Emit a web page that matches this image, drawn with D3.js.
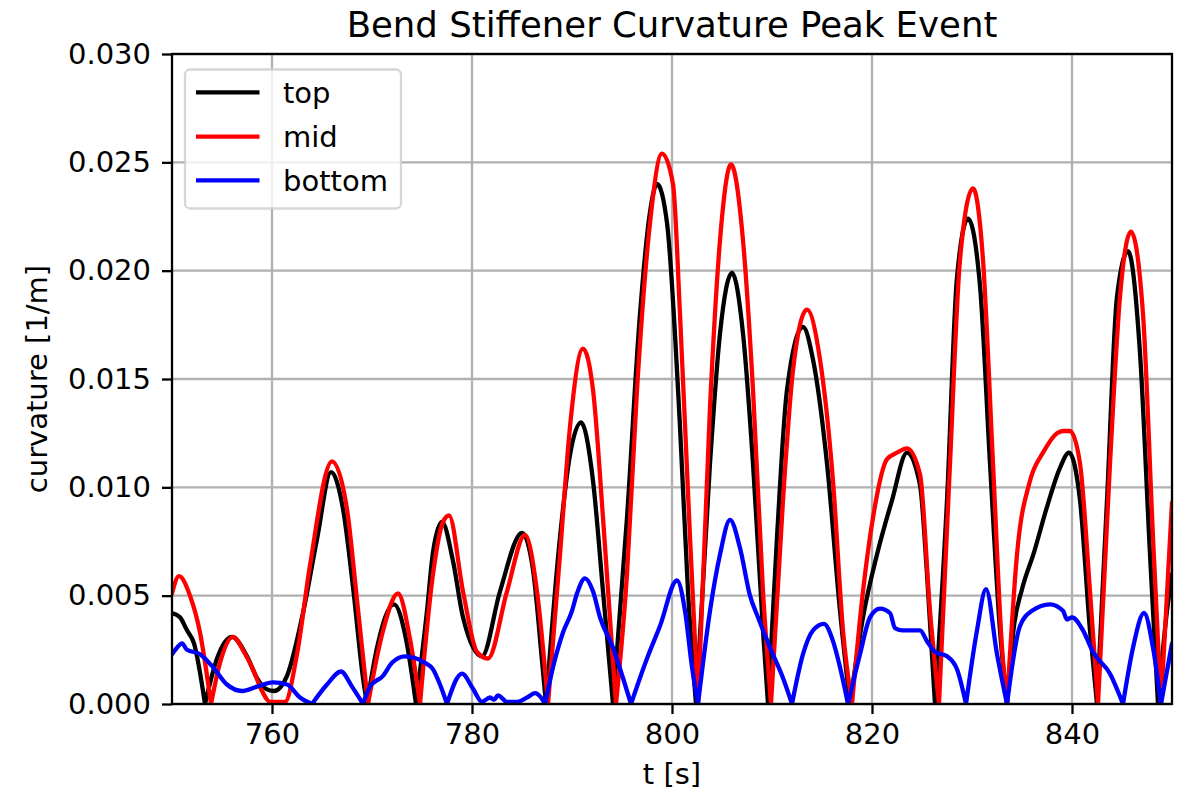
<!DOCTYPE html>
<html>
<head>
<meta charset="utf-8">
<script src="https://cdn.jsdelivr.net/npm/d3@7"></script>
<style>
  body { margin: 0; background: #fff; }
  svg { display: block; font-family: "DejaVu Sans", sans-serif; }
</style>
</head>
<body>
<div id="chart"></div>
<script>
// values (t in s, curvature in 1/m)
const tTop = [750, 750.8, 751.5, 752.2, 753.3, 754.5, 756.0, 757.5, 758.5, 759.4, 760.2, 761.5, 763.1, 764.5, 765.9, 767.1, 768.1, 769.1, 769.5,
  770.5, 772.2, 773.4, 774.4, 775.5, 776.1, 777.0, 778.1, 779.1, 781.0, 782.8, 785.0, 786.1, 787.0, 787.4, 788.8, 789.8, 790.9, 792.1, 793.1, 794.1,
  795.5, 796.8, 797.8, 798.5, 799.5, 800.8, 801.6, 802.4, 803.8, 804.8, 806.0, 807.1, 808.1, 809.1, 809.6, 810.5, 811.5, 813.1, 814.1, 815.5, 816.8, 817.8,
  819.1, 820.5, 822.0, 823.5, 824.8, 825.5, 826.3, 827.5, 828.5, 829.6, 830.8, 831.8, 832.8, 833.5, 834.2, 835.0, 836.2, 837.5, 838.8, 839.7, 840.8, 841.8, 842.5,
  843.5, 844.5, 845.6, 846.8, 847.8, 848.6, 849.5, 850];
const vTop = [0.0042, 0.0040, 0.0034, 0.0028, 0, 0.0021, 0.0031, 0.0022, 0.0012, 0.0007, 0.0006, 0.0013, 0.0042, 0.0076, 0.0107, 0.0090, 0.0054, 0.0012, 0,
  0.0026, 0.0046, 0.0030, 0, 0.0043, 0.0070, 0.0084, 0.0066, 0.0040, 0.0022, 0.0052, 0.0079, 0.0062, 0.0020, 0, 0.0077, 0.0115, 0.0130, 0.0103, 0.0052, 0,
  0.0086, 0.0180, 0.0227, 0.0240, 0.0222, 0.0128, 0.0052, 0, 0.0111, 0.0171, 0.0199, 0.0171, 0.0111, 0.0034, 0, 0.0077, 0.0145, 0.0174, 0.0159, 0.0111, 0.0043, 0,
  0.0040, 0.0069, 0.0094, 0.0116, 0.0101, 0.0060, 0, 0.0094, 0.0197, 0.0224, 0.0193, 0.0111, 0.0034, 0, 0.0036, 0.0053, 0.0070, 0.0091, 0.0109, 0.0116, 0.0094, 0.0034, 0,
  0.0094, 0.0188, 0.0209, 0.0162, 0.0069, 0, 0.0043, 0.0060];

const tMid = [750, 750.7, 751.8, 752.8, 753.9, 754.8, 756.1, 757.2, 758.1, 759.0, 759.8, 761.3, 762.5, 763.8, 766.0, 767.5, 768.5, 769.6,
  771.0, 772.6, 773.8, 774.8, 776.1, 777.1, 777.7, 779.1, 780.5, 781.6, 783.5, 785.3, 786.5, 787.6, 788.8, 789.8, 791.1, 792.1, 793.1, 794.0, 794.4,
  795.5, 796.5, 797.8, 799.0, 800.1, 800.8, 801.8, 802.6, 803.8, 804.8, 805.9, 807.1, 808.1, 809.1, 809.9, 811.1, 812.1, 813.5, 814.8, 816.1, 817.1, 818.0,
  819.1, 820.1, 821.5, 822.5, 823.5, 824.8, 825.8, 826.7, 827.8, 828.8, 830.1, 831.1, 832.1, 833.0, 833.5, 834.5, 835.8, 837.1, 838.5, 839.1, 839.8, 840.8, 841.8, 842.6,
  843.8, 844.8, 845.9, 847.1, 848.1, 848.9, 850];
const vMid = [0.0051, 0.0059, 0.0050, 0.0033, 0, 0.0019, 0.0031, 0.0024, 0.0016, 0.0006, 0.0001, 0.0001, 0.0023, 0.0064, 0.0112, 0.0090, 0.0048, 0,
  0.0032, 0.0051, 0.0030, 0, 0.0060, 0.0084, 0.0087, 0.0052, 0.0024, 0.0021, 0.0052, 0.0078, 0.0052, 0, 0.0069, 0.0128, 0.0164, 0.0145, 0.0086, 0.0026, 0,
  0.0060, 0.0145, 0.0222, 0.0254, 0.0240, 0.0180, 0.0077, 0, 0.0137, 0.0214, 0.0249, 0.0214, 0.0145, 0.0052, 0, 0.0094, 0.0154, 0.0182, 0.0159, 0.0103, 0.0034, 0,
  0.0052, 0.0086, 0.0113, 0.0116, 0.0118, 0.0106, 0.0043, 0, 0.0111, 0.0205, 0.0238, 0.0205, 0.0111, 0.0026, 0, 0.0069, 0.0103, 0.0116, 0.0125, 0.0126, 0.0126, 0.0111, 0.0052, 0,
  0.0111, 0.0188, 0.0218, 0.0180, 0.0077, 0, 0.0093];

const tBot = [750, 750.5, 751.0, 751.5, 752.8, 754.1, 755.5, 757.0, 758.5, 760.1, 761.5, 762.8, 764.0, 765.5, 766.9, 768.0, 769.1,
  769.8, 771.1, 772.0, 773.3, 775.3, 776.1, 776.8, 777.5, 779.0, 780.1, 781.0, 781.8, 782.2, 782.6, 783.5, 784.5, 785.5, 786.3, 786.9, 787.3,
  788.1, 789.1, 790.0, 790.5, 791.3, 792.1, 792.8, 794.1, 795.1, 795.9, 797.5, 798.8, 800.5, 801.3, 802.0, 802.6,
  803.8, 804.8, 805.8, 806.8, 807.8, 808.6, 809.8, 811.1, 812.0, 813.1, 814.1, 815.2, 816.1, 816.8, 817.6,
  818.8, 819.8, 820.8, 821.8, 822.3, 823.0, 823.8, 824.8, 825.5, 826.3, 827.5, 828.5, 829.4, 830.5, 831.4, 832.5, 833.5,
  834.8, 836.0, 837.8, 839.1, 839.5, 840.0, 841.1, 842.1, 843.8, 845.1, 846.1, 847.2, 848.1, 848.9, 850];
const vBot = [0.0023, 0.0026, 0.0028, 0.0025, 0.0023, 0.0017, 0.0009, 0.0006, 0.0008, 0.0010, 0.0009, 0.0003, 0, 0.0009, 0.0015, 0.0008, 0,
  0.0008, 0.0013, 0.0019, 0.0022, 0.0019, 0.0016, 0.0009, 0, 0.0014, 0.0007, 0.0001, 0.0003, 0.0002, 0.0004, 0.0001, 0.0001, 0.0003, 0.0005, 0.0003, 0,
  0.0017, 0.0033, 0.0043, 0.0051, 0.0058, 0.0052, 0.0040, 0.0026, 0.0012, 0, 0.0021, 0.0036, 0.0057, 0.0043, 0.0017, 0,
  0.0043, 0.0069, 0.0085, 0.0072, 0.0050, 0.0040, 0.0026, 0.0012, 0, 0.0023, 0.0034, 0.0037, 0.0029, 0.0017, 0,
  0.0023, 0.0040, 0.0044, 0.0042, 0.0035, 0.0034, 0.0034, 0.0034, 0.0029, 0.0024, 0.0022, 0.0016, 0, 0.0034, 0.0053, 0.0023, 0,
  0.0036, 0.0043, 0.0046, 0.0043, 0.0039, 0.0040, 0.0034, 0.0024, 0.0014, 0, 0.0026, 0.0042, 0.0026, 0, 0.0028];

const seriesNames = ["top", "mid", "bottom"];
const seriesColors = ["#000000", "#ff0000", "#0000ff"];
const xTicks = [760, 780, 800, 820, 840];
const yTicks = [0, 0.005, 0.010, 0.015, 0.020, 0.025, 0.030];

const W = 1181, H = 795;
const m = { left: 172, right: 1172, top: 54, bottom: 704 };
const lw = 4.3, thin = 2.3, tickLen = 10, fs = 29;

const svg = d3.select("#chart").append("svg")
  .attr("width", W)
  .attr("height", H);

const x = d3.scaleLinear().domain([750, 850]).range([m.left, m.right]);
const y = d3.scaleLinear().domain([0, 0.03]).range([m.bottom, m.top]);

svg.append("defs").append("clipPath")
  .attr("id", "plot-clip")
  .append("rect")
  .attr("x", m.left).attr("y", m.top)
  .attr("width", m.right - m.left).attr("height", m.bottom - m.top);

// grid
const grid = svg.append("g").attr("class", "grid");
grid.selectAll("line.gx").data(xTicks).join("line")
  .attr("class", "gx")
  .attr("x1", d => x(d)).attr("x2", d => x(d))
  .attr("y1", m.top).attr("y2", m.bottom)
  .attr("stroke", "#b0b0b0").attr("stroke-width", thin);
grid.selectAll("line.gy").data(yTicks).join("line")
  .attr("class", "gy")
  .attr("x1", m.left).attr("x2", m.right)
  .attr("y1", d => y(d)).attr("y2", d => y(d))
  .attr("stroke", "#b0b0b0").attr("stroke-width", thin);

// split a rectified signal into arches between its zeros so the cusps stay sharp
function arches(ts, vs) {
  const out = [];
  let cur = [];
  ts.forEach((t, i) => {
    const p = [t, vs[i]];
    cur.push(p);
    if (vs[i] === 0 && cur.length > 1) {
      out.push(cur);
      cur = [p];
    }
  });
  if (cur.length > 1) out.push(cur);
  return out;
}

const line = d3.line()
  .x(d => x(d[0]))
  .y(d => y(d[1]))
  .curve(d3.curveMonotoneX);

const allSeries = [[tTop, vTop], [tMid, vMid], [tBot, vBot]];
const lines = svg.append("g").attr("clip-path", "url(#plot-clip)");
allSeries.forEach((s, i) => {
  lines.append("path")
    .attr("d", arches(s[0], s[1]).map(a => line(a)).join(""))
    .attr("fill", "none")
    .attr("stroke", seriesColors[i])
    .attr("stroke-width", lw)
    .attr("stroke-linejoin", "round")
    .attr("stroke-linecap", "round");
});

// axes
const xAxis = d3.axisBottom(x).tickValues(xTicks).tickSize(tickLen).tickPadding(9).tickFormat(d3.format("d"));
const yAxis = d3.axisLeft(y).tickValues(yTicks).tickSize(tickLen).tickPadding(11).tickFormat(d3.format(".3f"));

const gx = svg.append("g").attr("transform", `translate(0,${m.bottom})`).call(xAxis);
const gy = svg.append("g").attr("transform", `translate(${m.left},0)`).call(yAxis);
[gx, gy].forEach(g => {
  g.select(".domain").remove();
  g.selectAll(".tick line").attr("stroke", "#000").attr("stroke-width", thin);
  g.selectAll(".tick text")
    .attr("fill", "#000")
    .style("font-size", fs + "px")
    .style("font-family", "DejaVu Sans");
});

// spines
svg.append("rect")
  .attr("x", m.left).attr("y", m.top)
  .attr("width", m.right - m.left).attr("height", m.bottom - m.top)
  .attr("fill", "none")
  .attr("stroke", "#000")
  .attr("stroke-width", thin);

// labels
svg.append("text")
  .attr("x", (m.left + m.right) / 2).attr("y", 37)
  .attr("text-anchor", "middle")
  .style("font-size", "35.5px")
  .text("Bend Stiffener Curvature Peak Event");

svg.append("text")
  .attr("x", (m.left + m.right) / 2).attr("y", 784)
  .attr("text-anchor", "middle")
  .style("font-size", fs + "px")
  .text("t [s]");

svg.append("text")
  .attr("transform", `translate(47,${(m.top + m.bottom) / 2}) rotate(-90)`)
  .attr("text-anchor", "middle")
  .style("font-size", fs + "px")
  .text("curvature [1/m]");

// legend
const lg = svg.append("g").attr("class", "legend");
lg.append("rect")
  .attr("x", 185).attr("y", 69.5)
  .attr("width", 216).attr("height", 139)
  .attr("rx", 5).attr("ry", 5)
  .attr("fill", "#fff").attr("fill-opacity", 0.8)
  .attr("stroke", "#cccccc").attr("stroke-opacity", 0.8)
  .attr("stroke-width", thin);

const legendY = [92.3, 136.7, 180.3];
seriesNames.forEach((name, i) => {
  lg.append("line")
    .attr("x1", 196).attr("x2", 259.5)
    .attr("y1", legendY[i]).attr("y2", legendY[i])
    .attr("stroke", seriesColors[i])
    .attr("stroke-width", lw);
  lg.append("text")
    .attr("x", 283).attr("y", legendY[i] + 10.5)
    .style("font-size", fs + "px")
    .text(name);
});
</script>
</body>
</html>
